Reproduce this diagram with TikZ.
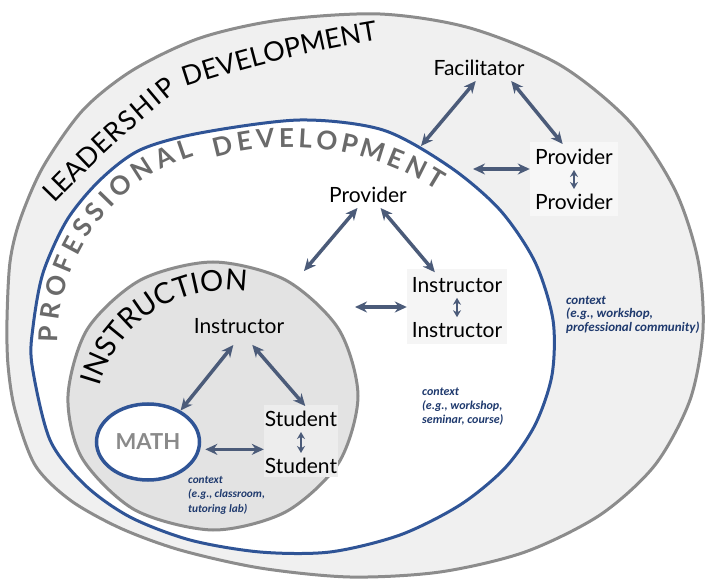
\documentclass[tikz,border=0pt]{standalone}
\usepackage{fontspec}
\setmainfont{Lato}
\newfontfamily\ctxfont{Carlito}
\usetikzlibrary{arrows.meta,shapes.geometric}
\definecolor{ringgray}{HTML}{8C8C8C}
\definecolor{outerbg}{HTML}{F0F0F0}
\definecolor{instrbg}{HTML}{E3E3E3}
\definecolor{pdblue}{HTML}{2F5496}
\definecolor{arrowblue}{HTML}{4B5B79}
\definecolor{ctxblue}{HTML}{1F3A6E}
\definecolor{pdtext}{HTML}{6A6A6A}
\definecolor{mathtext}{HTML}{8A8A8A}
% letters of a ring title along one curve: #1-#4 curve, #5 total width, #6 style, #7 letter/width list
\newcommand{\ringword}[7]{%
  \foreach \ch/\w [evaluate=\w as \p using (\prev+\w/2)/#5,
                   evaluate=\w as \acc using \prev+\w,
                   remember=\acc as \prev (initially 0)] in {#7}
    \path #1 .. controls #2 and #3 .. #4 node[#6, pos=\p] {\ch};}
\begin{document}
\begin{tikzpicture}[
        x=1pt, y=-1pt,
        >={Stealth[length=12pt,width=11pt]},
        role/.style={font=\fontsize{21}{25}\selectfont, inner sep=5pt},
        pairbox/.style={fill=#1, inner sep=0pt},
        ringletter/.style={sloped, allow upside down, anchor=base, inner sep=0pt},
        lead/.style={ringletter, text=black, font=\fontsize{27}{27}\selectfont},
        prof/.style={ringletter, text=pdtext, font=\bfseries\fontsize{26}{26}\selectfont},
        instr/.style={ringletter, text=black, font=\fontsize{29}{29}\selectfont},
        link/.style={<->, draw=arrowblue, line width=3.5pt},
        minilink/.style={{Stealth[length=7pt,width=8pt]}-{Stealth[length=7pt,width=8pt]}, draw=arrowblue, line width=2.5pt},
        ctx/.style 2 args={font=\ctxfont\bfseries\itshape\fontsize{#1}{#2}\selectfont, text=ctxblue, align=left, anchor=north west, inner sep=0pt},
        ]
        \useasboundingbox (0,0) rectangle (705,580);
        \draw[ringgray, line width=3pt, fill=outerbg] plot[smooth cycle] coordinates {(7,320) (10,262) (20,220) (43,167) (83,110) (133,70) (200,38) (280,20) (380,14) (470,28) (560,65) (630,122) (675,190) (698,260) (703,330) (690,400) (655,465) (600,515) (525,552) (440,572) (350,577) (260,568) (180,550) (120,528) (70,500) (35,465) (15,410) (8,365)};
        \draw[pdblue, line width=3pt, fill=white] plot[smooth cycle] coordinates {(32,365) (33,327) (43,273) (67,220) (100,180) (140,150) (200,133) (300,120) (383,130) (450,167) (500,210) (535,262) (553,320) (552,375) (535,425) (505,468) (460,505) (400,535) (330,552) (260,552) (190,540) (130,517) (85,485) (50,440)};
        \draw[ringgray, line width=3pt, fill=instrbg] plot[smooth cycle] coordinates {(358,396) (338.6,329) (285.5,280) (213,262) (140.5,280) (87.4,329) (68,396) (82,458) (135,510) (213,530) (285.5,512) (338.6,463)};
        % ring titles
        \ringword{(55,203)}{(89.5,167.3)}{(130.5,128.3)}{(179,89)}{5.82}{lead}
            {L/.49,E/.56,A/.68,D/.74,E/.56,R/.63,S/.53,H/.75,I/.28,P/.60}
        \ringword{(186,87)}{(248.8,66.4)}{(313,50.7)}{(378,40)}{7.22}{lead}
            {D/.74,E/.56,V/.68,E/.56,L/.49,O/.79,P/.60,M/.91,E/.56,N/.75,T/.58}
        \ringword{(58,345)}{(55.9,257.7)}{(113.2,179.4)}{(197,155)}{9.81}{prof}
            {P/.82,R/.85,O/1.01,F/.76,E/.78,S/.75,S/.75,I/.50,O/1.01,N/.97,A/.90,L/.71}
        \ringword{(213,158)}{(290.1,135.8)}{(372.8,148.2)}{(440,192)}{9.64}{prof}
            {D/.96,E/.78,V/.90,E/.78,L/.71,O/1.01,P/.82,M/1.13,E/.78,N/.97,T/.80}
        \ringword{(99,387)}{(116.8,322.1)}{(180.6,281.1)}{(247,292)}{6.57}{instr}
            {I/.28,N/.75,S/.53,T/.58,R/.63,U/.73,C/.67,T/.58,I/.28,O/.79,N/.75}
        \node[pairbox=white!97!black, minimum width=88pt, minimum height=74pt] (prbox) at (574,179) {};
        \node[pairbox=white!96!black, minimum width=100pt, minimum height=75pt] (inbox) at (457,307) {};
        \node[pairbox=white!93!black, minimum width=74pt, minimum height=72pt] (stbox) at (301,441) {};
        \node[role] (fac) at (479,68) {Facilitator};
        \node[role] (pr1) at (574,157) {Provider};
        \node[role] (pr2) at (574,202) {Provider};
        \node[role] (prv) at (368,195) {Provider};
        \node[role] (in1) at (457,285) {Instructor};
        \node[role] (in2) at (457,330) {Instructor};
        \node[role] (ins) at (239,326) {Instructor};
        \node[role] (st1) at (301,419) {Student};
        \node[role] (st2) at (301,466) {Student};
        \node[ellipse, draw=pdblue, line width=3.5pt, fill=white, minimum width=103pt, minimum height=76pt,
            text=mathtext, font=\bfseries\fontsize{22}{24}\selectfont] (math) at (148,442) {MATH};
        \coordinate (c1) at (421,146);
        \coordinate (c2) at (473,169);
        \coordinate (c3) at (304,271);
        \coordinate (c4) at (355,307);
        \draw[link] (fac.256) -- (c1);
        \draw[link] (fac.-22) -- (pr1.131);
        \draw[link] (c2) -- (prbox.west |- c2);
        \draw[minilink] (pr1.south) -- (pr2.north);
        \draw[link] (prv.231) -- (c3);
        \draw[link] (prv.-46) -- (in1.150);
        \draw[link] (c4) -- (inbox.west);
        \draw[minilink] (in1.south) -- (in2.north);
        \draw[link, shorten <=8pt] (ins.267) -- (math.44);
        \draw[link, shorten <=8pt] (ins.-58) -- (st1.72);
        \draw[link, shorten <=5pt] (math.-8) -- (stbox.west |- math.-8);
        \draw[minilink] (st1.south) -- (st2.north);
        \node[ctx={13}{13.3}] (ctxl) at (566,296) {context\\(e.g., workshop,\\professional community)};
        \node[ctx={12}{14}] (ctxp) at (422,388) {context\\(e.g., workshop,\\seminar, course)};
        \node[ctx={11.3}{14.5}] (ctxi) at (188,476) {context\\(e.g., classroom,\\tutoring lab)};
\end{tikzpicture}
\end{document}
